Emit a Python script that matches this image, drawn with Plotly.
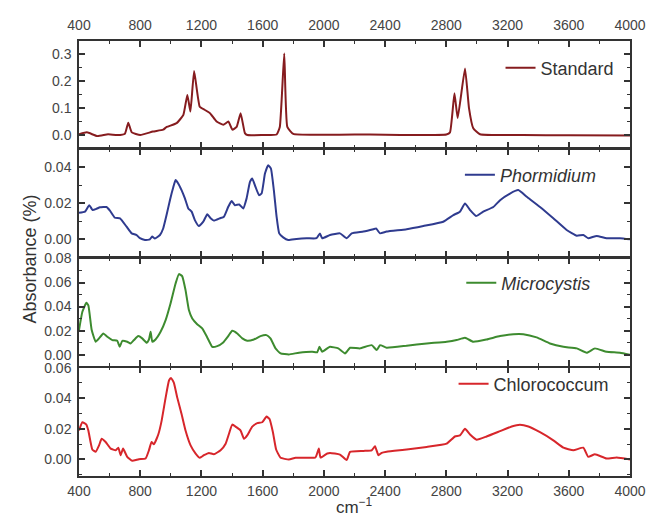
import plotly.graph_objects as go

# ---------------- data ----------------
x_tickvals = [400, 800, 1200, 1600, 2000, 2400, 2800, 3200, 3600, 4000]

std_wn = [400, 452, 520, 590, 650, 700, 722, 745, 800, 883, 950, 973, 1038, 1082, 1108, 1128, 1152,
          1189, 1223, 1256, 1299, 1343, 1376, 1402, 1430, 1456, 1484, 1500, 1600, 1691, 1712, 1741,
          1761, 1800, 2000, 2200, 2400, 2600, 2800, 2824, 2853, 2874, 2922, 2948, 2976, 3020, 3300,
          3600, 4000]
std_abs = [0.003, 0.010, -0.004, 0.003, 0.000, 0.005, 0.046, 0.010, 0.000, 0.013, 0.020, 0.030,
           0.044, 0.075, 0.149, 0.087, 0.238, 0.105, 0.093, 0.081, 0.050, 0.038, 0.050, 0.020, 0.030,
           0.081, 0.007, 0.000, 0.000, 0.002, 0.030, 0.303, 0.030, 0.004, 0.001, 0.002, 0.001, 0.000,
           0.002, 0.010, 0.155, 0.063, 0.247, 0.100, 0.025, 0.003, 0.000, -0.001, -0.002]

phor_wn = [400, 439, 467, 489, 515, 537, 580, 602, 635, 668, 711, 744, 776, 798, 831, 863, 878, 896,
           929, 950, 972, 994, 1016, 1031, 1049, 1070, 1092, 1114, 1136, 1157, 1183, 1212, 1238, 1260,
           1281, 1321, 1347, 1375, 1397, 1419, 1447, 1473, 1495, 1517, 1532, 1554, 1576, 1593, 1615,
           1636, 1654, 1673, 1691, 1708, 1734, 1767, 1821, 1887, 1952, 1974, 1989, 2040, 2105, 2149,
           2182, 2258, 2323, 2341, 2367, 2410, 2541, 2650, 2780, 2846, 2889, 2922, 2955, 2994, 3041,
           3107, 3151, 3216, 3270, 3325, 3412, 3499, 3586, 3652, 3695, 3727, 3782, 3847, 3934, 4000]
phor_abs = [0.0148, 0.0154, 0.0190, 0.0163, 0.0170, 0.0178, 0.0180, 0.0160, 0.0120, 0.0117, 0.0070,
            0.0033, 0.0024, 0.0006, -0.0004, 0.0000, 0.0015, 0.0004, 0.0024, 0.0060, 0.0135, 0.0218,
            0.0290, 0.0330, 0.0310, 0.0274, 0.0228, 0.0172, 0.0154, 0.0107, 0.0074, 0.0098, 0.0140,
            0.0117, 0.0104, 0.0117, 0.0126, 0.0181, 0.0213, 0.0190, 0.0194, 0.0172, 0.0228, 0.0320,
            0.0339, 0.0290, 0.0246, 0.0255, 0.0366, 0.0413, 0.0394, 0.0274, 0.0126, 0.0033, 0.0011,
            -0.0004, 0.0002, 0.0006, 0.0006, 0.0033, 0.0006, 0.0024, 0.0033, 0.0006, 0.0033, 0.0043,
            0.0056, 0.0060, 0.0033, 0.0043, 0.0056, 0.0074, 0.0098, 0.0135, 0.0154, 0.0200, 0.0163,
            0.0130, 0.0154, 0.0180, 0.0218, 0.0255, 0.0274, 0.0237, 0.0180, 0.0117, 0.0052, 0.0020,
            0.0024, 0.0006, 0.0019, 0.0006, 0.0006, 0.0000]

micro_wn = [400, 422, 448, 461, 483, 509, 531, 559, 585, 618, 650, 666, 683, 715, 737, 759, 787, 813,
            842, 857, 868, 879, 900, 933, 966, 998, 1031, 1053, 1074, 1096, 1118, 1140, 1172, 1205,
            1238, 1271, 1303, 1340, 1375, 1401, 1434, 1467, 1499, 1543, 1586, 1625, 1651, 1684, 1717,
            1771, 1837, 1924, 1956, 1971, 1989, 2022, 2040, 2094, 2138, 2171, 2236, 2312, 2345, 2367,
            2410, 2541, 2672, 2802, 2867, 2922, 2976, 3063, 3151, 3238, 3303, 3390, 3477, 3565, 3652,
            3717, 3771, 3847, 3934, 4000]
micro_abs = [0.0205, 0.0357, 0.0431, 0.0410, 0.0205, 0.0108, 0.0136, 0.0177, 0.0149, 0.0122, 0.0116,
             0.0066, 0.0116, 0.0108, 0.0094, 0.0122, 0.0155, 0.0136, 0.0100, 0.0127, 0.0191, 0.0108,
             0.0127, 0.0191, 0.0288, 0.0426, 0.0592, 0.0670, 0.0653, 0.0537, 0.0371, 0.0301, 0.0254,
             0.0219, 0.0144, 0.0066, 0.0072, 0.0100, 0.0155, 0.0199, 0.0177, 0.0136, 0.0116, 0.0127,
             0.0155, 0.0163, 0.0136, 0.0053, 0.0011, 0.0003, 0.0017, 0.0025, 0.0020, 0.0066, 0.0025,
             0.0053, 0.0066, 0.0053, 0.0011, 0.0058, 0.0053, 0.0080, 0.0039, 0.0080, 0.0058, 0.0075,
             0.0094, 0.0108, 0.0122, 0.0141, 0.0108, 0.0127, 0.0155, 0.0171, 0.0171, 0.0144, 0.0094,
             0.0066, 0.0053, 0.0017, 0.0053, 0.0025, 0.0017, 0.0000]

chlo_wn = [400, 422, 448, 461, 487, 509, 531, 548, 574, 607, 640, 657, 672, 688, 715, 748, 791, 835,
           857, 874, 889, 918, 940, 966, 988, 1001, 1020, 1042, 1070, 1096, 1129, 1162, 1190, 1216,
           1249, 1281, 1325, 1358, 1380, 1401, 1428, 1456, 1478, 1499, 1532, 1565, 1597, 1625, 1645,
           1667, 1688, 1717, 1771, 1815, 1880, 1945, 1967, 1978, 2022, 2040, 2105, 2149, 2171, 2258,
           2312, 2334, 2356, 2378, 2410, 2541, 2672, 2802, 2856, 2889, 2922, 2955, 2998, 3063, 3151,
           3227, 3281, 3336, 3412, 3499, 3565, 3630, 3695, 3727, 3771, 3847, 3913, 4000]
chlo_abs = [0.0189, 0.0243, 0.0228, 0.0189, 0.0065, 0.0050, 0.0092, 0.0135, 0.0114, 0.0071, 0.0060,
            0.0077, 0.0028, 0.0071, 0.0017, -0.0009, 0.0002, 0.0006, 0.0060, 0.0114, 0.0099, 0.0163,
            0.0254, 0.0404, 0.0516, 0.0533, 0.0501, 0.0404, 0.0297, 0.0189, 0.0092, 0.0039, 0.0011,
            0.0028, 0.0043, 0.0034, 0.0060, 0.0103, 0.0168, 0.0228, 0.0211, 0.0189, 0.0135, 0.0157,
            0.0215, 0.0237, 0.0243, 0.0280, 0.0264, 0.0178, 0.0065, 0.0011, 0.0000, 0.0011, 0.0011,
            0.0013, 0.0071, 0.0012, 0.0039, 0.0043, 0.0032, -0.0004, 0.0050, 0.0056, 0.0060, 0.0086,
            0.0028, 0.0043, 0.0050, 0.0065, 0.0082, 0.0103, 0.0150, 0.0157, 0.0200, 0.0163, 0.0129,
            0.0150, 0.0185, 0.0215, 0.0226, 0.0215, 0.0178, 0.0125, 0.0077, 0.0060, 0.0077, 0.0017,
            0.0034, 0.0006, 0.0013, 0.0000]

names = ["Standard", "<i>Phormidium</i>", "<i>Microcystis</i>", "Chlorococcum"]
y_tickvals = [[0.0, 0.1, 0.2, 0.3],
              [0.00, 0.02, 0.04],
              [0.00, 0.02, 0.04, 0.06, 0.08],
              [0.00, 0.02, 0.04, 0.06]]

# ---------------- styling ----------------
colors = ["#861c1f", "#2f3b8f", "#3d8b2f", "#d7262b"]
y_ranges = [[-0.047, 0.349], [-0.0098, 0.0502], [-0.0094, 0.08005], [-0.0108, 0.06005]]
y_fmt = [".1f", ".2f", ".2f", ".2f"]
y_minor = [0.05, 0.01, 0.01, 0.01]
g = 0.0017  # half gap so that neighbouring frame lines coincide
domains = [[0.753 + g, 1.0], [0.502 + g, 0.753 - g], [0.251 + g, 0.502 - g], [0.0, 0.251 - g]]
legend_y = [0.938, 0.692, 0.4437, 0.2115]
legend_x = [0.981, 0.949, 0.937, 0.972]

FONT = "Liberation Sans, Arial, sans-serif"
AX = "#333333"

fig = go.Figure()
data = [(std_wn, std_abs), (phor_wn, phor_abs), (micro_wn, micro_abs), (chlo_wn, chlo_abs)]
for i, (wn, ab) in enumerate(data):
    sfx = "" if i == 0 else str(i + 1)
    fig.add_trace(go.Scatter(
        x=wn, y=ab, mode="lines", name=names[i], showlegend=True,
        line=dict(color=colors[i], width=2, shape="spline", smoothing=0.4),
        xaxis="x" + sfx, yaxis="y" + sfx,
        legend="legend" + sfx,
    ))

layout = dict(
    template="none",
    width=646, height=518,
    margin=dict(l=79, r=16, t=41, b=42, pad=0, autoexpand=False),
    paper_bgcolor="white", plot_bgcolor="white",
    showlegend=True,
    font=dict(family=FONT, color="#333"),
)

for i in range(4):
    sfx = "" if i == 0 else str(i + 1)
    xa = dict(
        domain=[0, 1], anchor="y" + sfx, range=[400, 4000], automargin=False,
        tickvals=x_tickvals, showticklabels=(i in (0, 3)),
        side="top" if i == 0 else "bottom",
        showline=True, linecolor=AX, linewidth=1.5, mirror="ticks",
        ticks="inside", ticklen=6, tickwidth=1.5, tickcolor=AX,
        minor=dict(ticks="inside", ticklen=3, tickwidth=1.2, tickcolor=AX, dtick=200, tick0=400),
        showgrid=False, zeroline=False, ticklabelstandoff=4 if i == 0 else 1,
        tickfont=dict(family=FONT, size=14, color="#444"),
    )
    if i > 0:
        xa["matches"] = "x"
    ya = dict(
        domain=domains[i], anchor="x" + sfx, range=y_ranges[i], automargin=False,
        tickvals=y_tickvals[i], tickformat=y_fmt[i],
        showline=True, linecolor=AX, linewidth=1.5, mirror="ticks",
        ticks="inside", ticklen=6, tickwidth=1.5, tickcolor=AX,
        minor=dict(ticks="inside", ticklen=3, tickwidth=1.2, tickcolor=AX, dtick=y_minor[i], tick0=0),
        showgrid=False, zeroline=False, ticklabelstandoff=3,
        tickfont=dict(family=FONT, size=14, color="#444"),
    )
    layout["xaxis" + sfx] = xa
    layout["yaxis" + sfx] = ya
    layout["legend" + sfx] = dict(
        x=legend_x[i], y=legend_y[i], xanchor="right", yanchor="middle",
        bgcolor="rgba(0,0,0,0)", borderwidth=0, itemwidth=30,
        font=dict(family=FONT, size=18, color="#333"),
    )

fig.update_layout(**layout)

fig.add_annotation(
    text="Absorbance (%)", xref="paper", yref="paper", x=-0.089, y=0.5,
    textangle=-90, showarrow=False, xanchor="center", yanchor="middle",
    font=dict(family=FONT, size=18, color="#333"),
)
fig.add_annotation(
    text="cm<sup>−1</sup>", xref="paper", yref="paper", x=0.5, y=-0.069,
    showarrow=False, xanchor="center", yanchor="middle",
    font=dict(family=FONT, size=17, color="#333"),
)

# remove the browser's default 8px page margin so the 646x518 figure fills the window
fig.write_html("out.html", config={"displayModeBar": False},
               post_script="document.body.style.margin='0px';")
